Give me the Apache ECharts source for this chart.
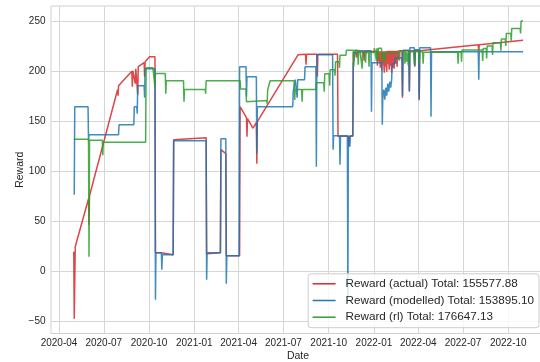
<!DOCTYPE html>
<html>
<head>
<meta charset="utf-8">
<script src="https://cdn.jsdelivr.net/npm/echarts@6/dist/echarts.min.js"></script>
<style>
  html, body { margin: 0; padding: 0; background: #ffffff; }
  #chart { width: 540px; height: 362px; }
</style>
</head>
<body>
<div id="chart"></div>
<script>
// Quarterly date ticks and reward ticks
const xTickLabels = ['2020-04', '2020-07', '2020-10', '2021-01', '2021-04', '2021-07',
                     '2021-10', '2022-01', '2022-04', '2022-07', '2022-10'];
const yTickLabels = [-50, 0, 50, 100, 150, 200, 250];

const seriesNames = [
  'Reward (actual) Total: 155577.88',
  'Reward (modelled) Total: 153895.10',
  'Reward (rl) Total: 176647.13'
];

// Reward (actual)
const actualDates = [
  '2020-05-01', '2020-05-02', '2020-05-04',
  '2020-05-31', '2020-06-01', '2020-06-02',
  '2020-07-29', '2020-07-30', '2020-07-31',
  '2020-08-27', '2020-08-28', '2020-08-29',
  '2020-09-02', '2020-09-03', '2020-09-04',
  '2020-09-07', '2020-09-08', '2020-09-09',
  '2020-09-21', '2020-09-22', '2020-09-23',
  '2020-10-02', '2020-10-13', '2020-10-14',
  '2020-10-26', '2020-10-27', '2020-11-19',
  '2020-11-20', '2021-01-25', '2021-01-26',
  '2021-02-23', '2021-02-24', '2021-03-06',
  '2021-03-07', '2021-04-03', '2021-04-04',
  '2021-04-17', '2021-04-18', '2021-04-19',
  '2021-04-30', '2021-05-07', '2021-05-08',
  '2021-05-09', '2021-07-31', '2021-08-15',
  '2021-08-16', '2021-08-17', '2021-09-07',
  '2021-09-08', '2021-09-09', '2021-10-19',
  '2021-10-20', '2021-11-10', '2021-11-11',
  '2021-11-12', '2021-11-19', '2021-11-20',
  '2021-11-26', '2021-11-27', '2021-11-28',
  '2021-12-11', '2021-12-12', '2021-12-13',
  '2022-01-07', '2022-01-08', '2022-01-09',
  '2022-01-11', '2022-01-12', '2022-01-14',
  '2022-01-15', '2022-01-17', '2022-01-18',
  '2022-01-19', '2022-01-20', '2022-01-22',
  '2022-01-23', '2022-01-24', '2022-01-25',
  '2022-01-27', '2022-01-28', '2022-01-29',
  '2022-01-30', '2022-02-01', '2022-02-02',
  '2022-02-03', '2022-02-04', '2022-02-06',
  '2022-02-07', '2022-02-08', '2022-02-09',
  '2022-02-11', '2022-02-12', '2022-02-14',
  '2022-02-15', '2022-02-17', '2022-02-18',
  '2022-02-20', '2022-02-21', '2022-02-27',
  '2022-02-28', '2022-03-01', '2022-03-13',
  '2022-03-14', '2022-03-15', '2022-03-24',
  '2022-03-25', '2022-03-26', '2022-04-02',
  '2022-04-03', '2022-04-04', '2022-08-01',
  '2022-08-02', '2022-08-03', '2022-10-31'
];
const actualValues = [
  20, -47, 25,
  73, 47, 76,
  182, 176, 186,
  200.5, 185, 201,
  202.5, 188, 203,
  204.5, 177, 205,
  209, 195, 210,
  215, 215, 19,
  19, 17, 17,
  132, 134, 18,
  19, 122, 118,
  16, 16, 165,
  154, 135, 153,
  143.5, 149, 108,
  150, 217, 217.5,
  207, 217.5, 217.5,
  195, 217.5, 217.5,
  135.5, 135.5, 125,
  135.5, 135.5, 219,
  219.5, 214, 219.5,
  220, 211, 220,
  220.5, 206, 220.5,
  210, 220.5, 204,
  220.5, 201, 220.5,
  207, 220.5, 199,
  220.5, 205, 220.5,
  200, 221, 208,
  221, 202, 221,
  206, 221, 199,
  221, 204, 221,
  203, 221, 208,
  221, 205, 221,
  212, 221, 221,
  174, 221, 221,
  180, 221, 221,
  205, 221, 221,
  171.5, 221, 227,
  220, 227, 231.5
];

// Reward (modelled)
const modelDates = [
  '2020-05-02', '2020-05-03', '2020-05-30',
  '2020-05-31', '2020-06-01', '2020-07-31',
  '2020-08-01', '2020-08-31', '2020-09-01',
  '2020-09-06', '2020-09-07', '2020-09-08',
  '2020-09-21', '2020-09-22', '2020-09-23',
  '2020-10-13', '2020-10-14', '2020-10-15',
  '2020-10-26', '2020-10-27', '2020-10-28',
  '2020-11-19', '2020-11-20', '2021-01-25',
  '2021-01-26', '2021-01-27', '2021-02-23',
  '2021-02-24', '2021-03-06', '2021-03-07',
  '2021-03-08', '2021-04-02', '2021-04-03',
  '2021-04-16', '2021-04-17', '2021-04-18',
  '2021-05-07', '2021-05-08', '2021-05-09',
  '2021-07-20', '2021-07-21', '2021-07-24',
  '2021-07-25', '2021-07-28', '2021-07-29',
  '2021-07-30', '2021-08-13', '2021-08-14',
  '2021-09-05', '2021-09-06', '2021-09-07',
  '2021-10-09', '2021-10-10', '2021-10-11',
  '2021-10-23', '2021-10-24', '2021-10-25',
  '2021-11-08', '2021-11-09', '2021-11-10',
  '2021-11-12', '2021-11-13', '2021-11-14',
  '2021-11-19', '2021-11-20', '2021-11-24',
  '2021-11-25', '2021-12-26', '2021-12-27',
  '2021-12-28', '2022-01-17', '2022-01-18',
  '2022-01-19', '2022-01-21', '2022-01-23',
  '2022-01-25', '2022-01-27', '2022-01-29',
  '2022-01-31', '2022-02-02', '2022-02-04',
  '2022-02-06', '2022-02-07', '2022-02-12',
  '2022-02-13', '2022-02-27', '2022-02-28',
  '2022-03-01', '2022-03-13', '2022-03-14',
  '2022-03-15', '2022-03-24', '2022-03-25',
  '2022-03-26', '2022-04-02', '2022-04-03',
  '2022-04-04', '2022-04-26', '2022-04-27',
  '2022-04-28', '2022-08-01', '2022-08-02',
  '2022-08-03', '2022-10-31'
];
const modelValues = [
  77, 165, 165,
  131, 137, 137,
  147, 147, 165,
  165, 158, 186,
  186, 174, 203,
  203, -28, 19,
  19, 2, 17,
  17, 131, 131,
  -8, 19, 19,
  133, 133, -12,
  16, 16, 205,
  205, 175, 195,
  195, 118, 165,
  165, 180, 180,
  192, 192, 174,
  192, 192, 205,
  205, 105, 217,
  217, 122, 136,
  136, 107, 136,
  136, -27, 136,
  136, 125, 136,
  136, 208, 208,
  221, 221, 160,
  209, 209, 147,
  176, 182, 172,
  184, 176, 188,
  180, 190, 184,
  192, 208, 208,
  214, 214, 176,
  221.5, 221.5, 181,
  224, 224, 206,
  222, 222, 173,
  224, 224, 155,
  220, 220, 192,
  220, 220
];

// Reward (rl)
const rlDates = [
  '2020-05-01', '2020-05-31', '2020-06-01',
  '2020-06-02', '2020-06-28', '2020-06-29',
  '2020-06-30', '2020-09-24', '2020-09-25',
  '2020-10-09', '2020-10-10', '2020-10-12',
  '2020-10-13', '2020-10-14', '2020-11-03',
  '2020-11-04', '2020-11-05', '2020-12-10',
  '2020-12-11', '2020-12-12', '2021-01-23',
  '2021-01-24', '2021-01-25', '2021-04-04',
  '2021-04-05', '2021-04-16', '2021-04-17',
  '2021-04-18', '2021-05-28', '2021-05-29',
  '2021-05-30', '2021-06-03', '2021-06-04',
  '2021-07-23', '2021-07-24', '2021-07-25',
  '2021-08-07', '2021-08-08', '2021-08-09',
  '2021-09-05', '2021-09-06', '2021-09-21',
  '2021-09-22', '2021-09-23', '2021-10-02',
  '2021-10-03', '2021-10-04', '2021-10-13',
  '2021-10-14', '2021-10-15', '2021-10-22',
  '2021-10-23', '2021-10-24', '2021-11-05',
  '2021-11-06', '2021-11-20', '2021-11-21',
  '2021-11-22', '2021-11-29', '2021-11-30',
  '2021-12-01', '2021-12-03', '2021-12-04',
  '2021-12-07', '2021-12-08', '2021-12-09',
  '2021-12-14', '2021-12-15', '2021-12-16',
  '2021-12-21', '2021-12-22', '2021-12-23',
  '2022-01-01', '2022-01-02', '2022-01-05',
  '2022-01-06', '2022-01-07', '2022-01-08',
  '2022-01-09', '2022-01-10', '2022-01-16',
  '2022-01-17', '2022-01-18', '2022-01-19',
  '2022-01-22', '2022-01-23', '2022-01-24',
  '2022-02-21', '2022-02-22', '2022-02-23',
  '2022-03-04', '2022-03-05', '2022-03-06',
  '2022-03-07', '2022-03-08', '2022-03-09',
  '2022-03-11', '2022-03-12', '2022-03-13',
  '2022-03-23', '2022-03-24', '2022-03-25',
  '2022-04-02', '2022-04-03', '2022-04-04',
  '2022-04-10', '2022-04-11', '2022-04-12',
  '2022-06-20', '2022-06-21', '2022-06-22',
  '2022-06-27', '2022-06-28', '2022-06-29',
  '2022-08-09', '2022-08-10', '2022-08-11',
  '2022-08-17', '2022-08-18', '2022-08-19',
  '2022-08-29', '2022-08-30', '2022-08-31',
  '2022-09-15', '2022-09-16', '2022-09-17',
  '2022-09-25', '2022-09-26', '2022-09-27',
  '2022-10-06', '2022-10-07', '2022-10-08',
  '2022-10-25', '2022-10-26', '2022-10-27',
  '2022-10-31'
];
const rlValues = [
  132.5, 132.5, 15,
  131.5, 131.5, 116.5,
  129.5, 129.5, 204,
  204, 198.3, 198.3,
  185, 198.3, 198.3,
  178, 191, 191,
  170, 182.3, 182.3,
  178, 191, 191,
  182.7, 182.7, 170,
  171.3, 171.3, 168,
  181.7, 181.7, 191,
  191, 171.7, 182.3,
  182.3, 170, 182.3,
  182.3, 189, 189,
  180, 198, 198,
  186, 202, 202,
  196, 210, 210,
  204, 216.5, 216.5,
  221.5, 221.5, 205,
  221.5, 221.5, 207,
  221.5, 221.5, 219.3,
  219.3, 203, 219.3,
  219.3, 209, 219.3,
  219.3, 205, 219.3,
  219.3, 223.5, 223.5,
  211, 223.5, 223.5,
  212, 223.5, 223.5,
  219.3, 210, 219.3,
  219.3, 210, 219.3,
  219.3, 211, 220.5,
  220.5, 208, 220.5,
  220.5, 210, 220,
  220, 206, 220,
  220, 207, 220,
  220, 208, 220,
  220, 208, 219.5,
  219.5, 208, 220,
  220, 210, 221.7,
  221.7, 210.7, 223.3,
  223.3, 213.3, 225.7,
  225.7, 216.7, 229,
  229, 221, 232.7,
  232.7, 225.7, 238.3,
  238.3, 231, 243.3,
  243.3, 238.3, 250.7,
  250.7
];

const lineColors = ['#d62728', '#1f77b4', '#2ca02c'];
const textColor = '#262626';
const gridColor = '#d6d6d6';

const DAY = 86400000;
const april2020 = +new Date('2020-04-01T00:00:00');
const toTime = (s) => +new Date(s + 'T00:00:00');
const zip = (dates, values) => dates.map((d, i) => [toTime(d), values[i]]);
const xTickValues = xTickLabels.map((s) => toTime(s + '-01'));
const pad2 = (n) => (n < 10 ? '0' : '') + n;

const chart = echarts.init(document.getElementById('chart'), null, { renderer: 'canvas' });

const makeSeries = (name, data, color) => ({
  name: name,
  type: 'line',
  data: data,
  showSymbol: false,
  symbol: 'none',
  silent: true,
  animation: false,
  emphasis: { disabled: true },
  lineStyle: { color: color, width: 1.5, opacity: 0.85 },
  itemStyle: { color: color }
});

chart.setOption({
  backgroundColor: '#ffffff',
  animation: false,
  textStyle: { fontFamily: 'Liberation Sans, Arial, sans-serif' },
  grid: {
    left: 51, top: 6, width: 494, height: 327.5,
    show: true, borderColor: '#d0d0d0', borderWidth: 1,
    containLabel: false,
    outerBoundsMode: 'none'
  },
  xAxis: {
    // dates are plotted as millisecond timestamps on a linear scale
    type: 'value',
    scale: true,
    min: april2020 - 16.26 * DAY,
    max: april2020 + 987.6 * DAY,
    name: 'Date',
    nameLocation: 'middle',
    nameGap: 17.5,
    nameMoveOverlap: false,
    nameTextStyle: { color: textColor, fontSize: 10.5 },
    axisLine: { show: false },
    axisTick: { show: false, customValues: xTickValues },
    splitLine: { show: true, lineStyle: { color: gridColor, width: 1 } },
    axisLabel: {
      customValues: xTickValues,
      color: textColor, fontSize: 10, margin: 5,
      formatter: (v) => {
        const d = new Date(v);
        return d.getFullYear() + '-' + pad2(d.getMonth() + 1);
      }
    }
  },
  yAxis: {
    type: 'value',
    min: -61.8,
    max: 265.7,
    name: 'Reward',
    nameLocation: 'middle',
    nameGap: 25,
    nameMoveOverlap: false,
    nameTextStyle: { color: textColor, fontSize: 10.5 },
    axisLine: { show: false },
    axisTick: { show: false, customValues: yTickLabels },
    splitLine: { show: true, lineStyle: { color: gridColor, width: 1 } },
    axisLabel: {
      customValues: yTickLabels,
      color: textColor, fontSize: 10, margin: 5.5,
      formatter: (v) => (v < 0 ? '\u2212' + Math.abs(v) : String(v))
    }
  },
  legend: {
    data: seriesNames,
    orient: 'vertical',
    right: 1,
    bottom: 34.3,
    icon: 'rect',
    itemWidth: 23,
    itemHeight: 1.5,
    itemGap: 3.7,
    padding: [3.5, 5, 4, 4.4],
    backgroundColor: 'rgba(255,255,255,0.8)',
    borderColor: '#cccccc',
    borderWidth: 1,
    borderRadius: 3,
    selectedMode: false,
    textStyle: { color: textColor, fontSize: 11.7, lineHeight: 13, padding: [0, 0, 0, 5] }
  },
  series: [
    makeSeries(seriesNames[0], zip(actualDates, actualValues), lineColors[0]),
    makeSeries(seriesNames[1], zip(modelDates, modelValues), lineColors[1]),
    makeSeries(seriesNames[2], zip(rlDates, rlValues), lineColors[2])
  ]
});
</script>
</body>
</html>
